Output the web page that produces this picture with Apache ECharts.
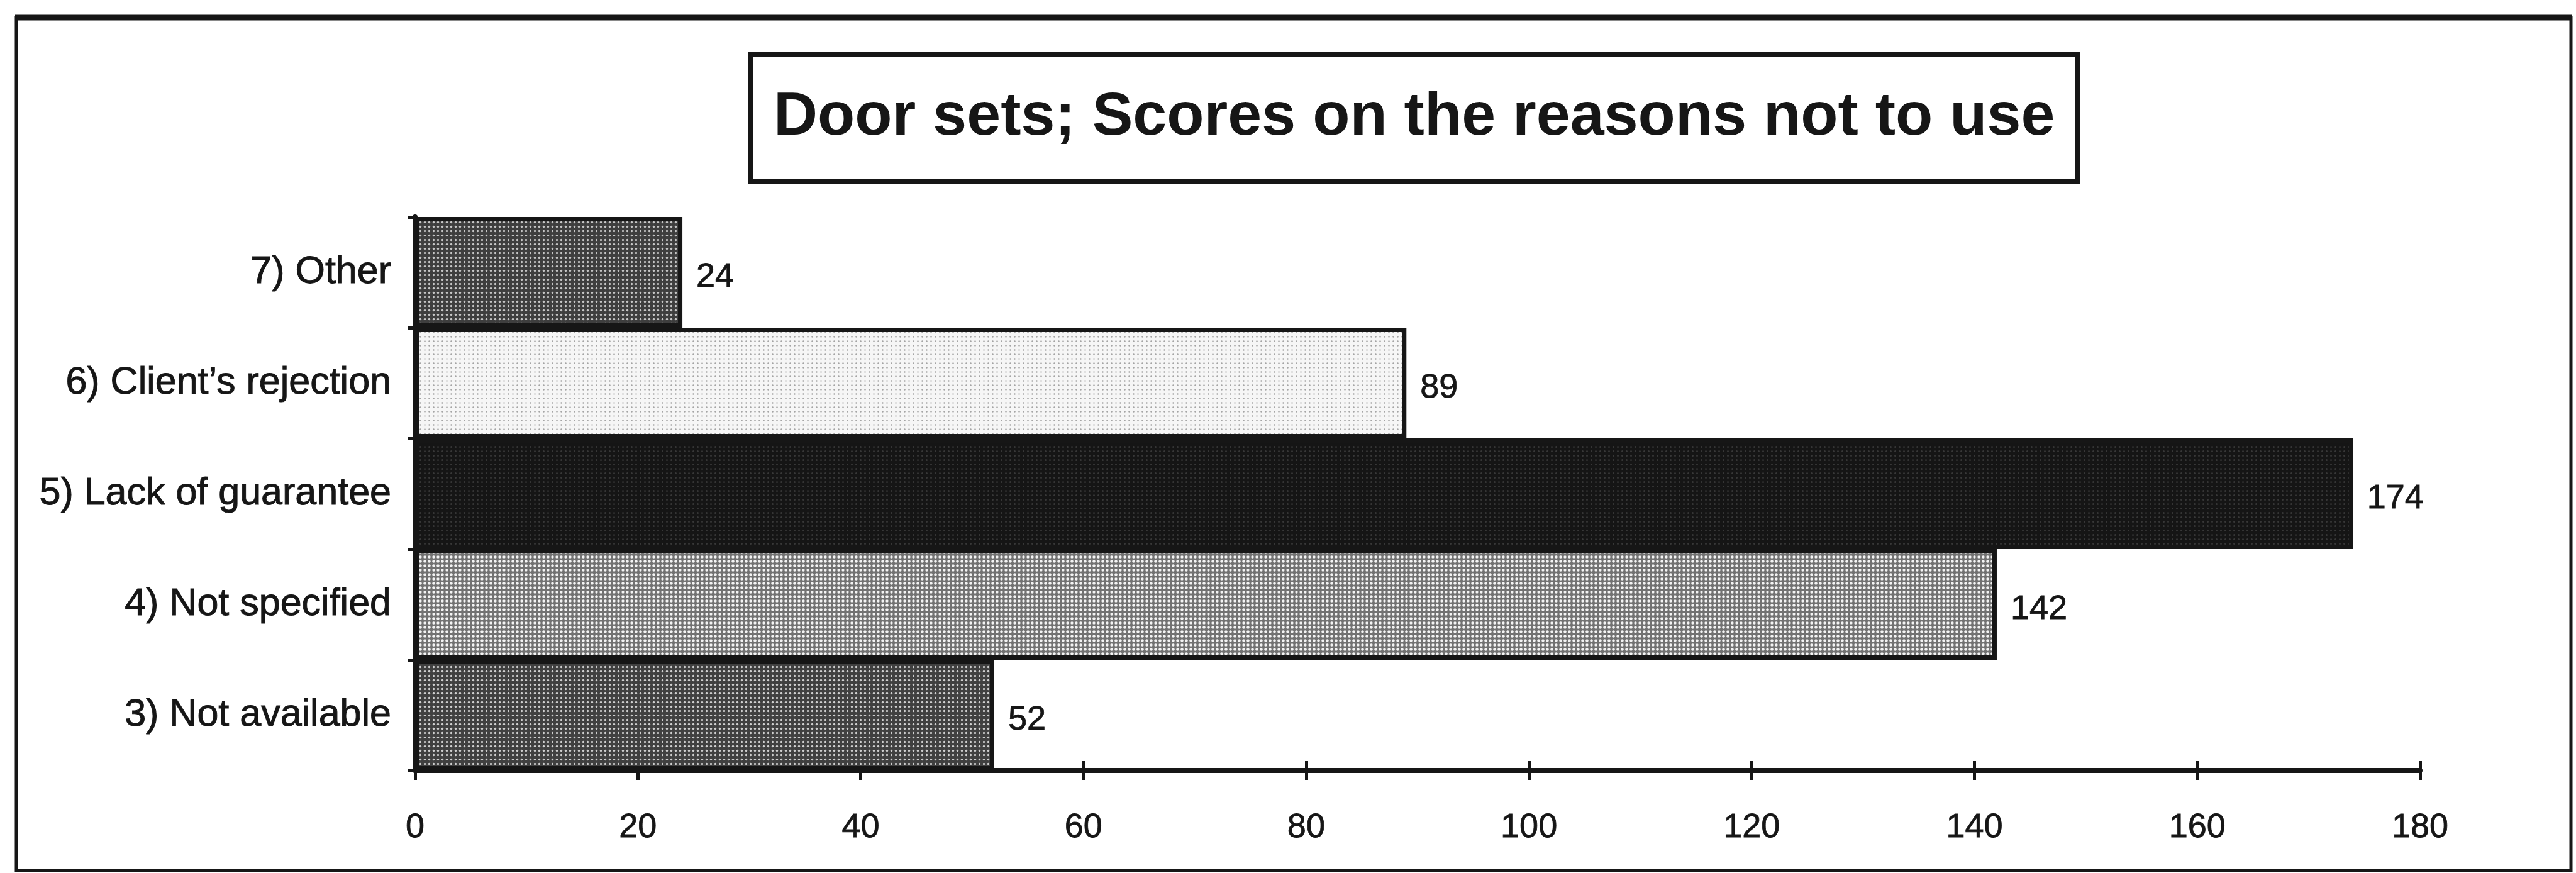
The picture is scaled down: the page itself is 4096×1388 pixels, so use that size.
<!DOCTYPE html>
<html>
<head>
<meta charset="utf-8">
<title>Door sets; Scores on the reasons not to use</title>
<script src="https://cdn.jsdelivr.net/npm/echarts@6/dist/echarts.min.js"></script>
<style>
  html, body { margin: 0; padding: 0; background: #ffffff; }
  #chart { width: 4096px; height: 1388px; }
</style>
</head>
<body>
<div id="chart"></div>
<script>
// ---- data ----
const titleText = 'Door sets; Scores on the reasons not to use';
const categories = ['3) Not available', '4) Not specified', '5) Lack of guarantee', '6) Client\u2019s rejection', '7) Other'];
const scores = [52, 142, 174, 89, 24];
const axisMin = 0;
const axisMax = 180;
const axisStep = 20;

// ---- fill patterns (one per bar, bottom to top) ----
function dotPattern(bg, dot, pitch, radius) {
  const c = document.createElement('canvas');
  c.width = pitch * 2;
  c.height = pitch * 2;
  const g = c.getContext('2d');
  g.fillStyle = bg;
  g.fillRect(0, 0, c.width, c.height);
  g.fillStyle = dot;
  [[pitch / 2, pitch / 2], [pitch * 1.5, pitch * 1.5], [pitch * 1.5, pitch / 2], [pitch / 2, pitch * 1.5]].forEach(function (p) {
    g.beginPath();
    g.arc(p[0], p[1], radius, 0, Math.PI * 2);
    g.fill();
  });
  return { image: c, repeat: 'repeat' };
}

const barFills = [
  dotPattern('#404040', '#cfcfcf', 7, 1.7),   // Not available
  dotPattern('#727272', '#f4f4f4', 7, 2.2),   // Not specified
  dotPattern('#151515', '#383838', 7, 1.5),   // Lack of guarantee
  dotPattern('#f6f6f6', '#a4a4a4', 7, 1.2),   // Client's rejection
  dotPattern('#3e3e3e', '#c6c6c6', 7, 1.7)    // Other
];

const ink = '#161616';
const font = '"Liberation Sans", Arial, sans-serif';

const chart = echarts.init(document.getElementById('chart'), null, { renderer: 'canvas' });

chart.setOption({
  backgroundColor: '#ffffff',
  animation: false,
  title: {
    text: titleText,
    left: 1194,
    top: 86,
    padding: [52, 36, 52, 36],
    borderColor: ink,
    borderWidth: 8,
    textStyle: {
      fontFamily: font,
      fontSize: 97,
      fontWeight: 'bold',
      color: ink,
      lineHeight: 98
    }
  },
  graphic: [
    {
      type: 'rect',
      shape: { x: 26, y: 28, width: 4062, height: 1356 },
      style: { fill: null, stroke: ink, lineWidth: 5 },
      silent: true
    },
    {
      type: 'line',
      shape: { x1: 24, y1: 28, x2: 4090, y2: 28 },
      style: { stroke: ink, lineWidth: 9 },
      silent: true
    }
  ],
  grid: { left: 660, right: 248, top: 345, bottom: 163, containLabel: false },
  xAxis: [
    {
      type: 'value',
      min: axisMin,
      max: axisMax,
      interval: axisStep,
      position: 'bottom',
      splitLine: { show: false },
      axisLine: { show: true, lineStyle: { color: ink, width: 8 } },
      axisTick: { show: true, inside: false, length: 15, lineStyle: { color: ink, width: 5 } },
      axisLabel: {
        fontFamily: font, fontSize: 54, color: ink, margin: 64,
        textBorderColor: ink, textBorderWidth: 0.8
      }
    },
    {
      type: 'value',
      min: axisMin,
      max: axisMax,
      interval: axisStep,
      position: 'bottom',
      splitLine: { show: false },
      axisLine: { show: false },
      axisTick: { show: true, inside: true, length: 15, lineStyle: { color: ink, width: 5 } },
      axisLabel: { show: false }
    }
  ],
  yAxis: {
    type: 'category',
    data: categories,
    boundaryGap: true,
    axisLine: { show: true, lineStyle: { color: ink, width: 8 } },
    axisTick: { show: true, length: 12, lineStyle: { color: ink, width: 5 } },
    axisLabel: {
      fontFamily: font, fontSize: 61, color: ink, margin: 38,
      textBorderColor: ink, textBorderWidth: 1
    }
  },
  series: [
    {
      type: 'bar',
      xAxisIndex: 0,
      barCategoryGap: 0,
      data: scores.map(function (v, i) {
        return { value: v, itemStyle: { color: barFills[i] } };
      }),
      itemStyle: { borderColor: ink, borderWidth: 7 },
      label: {
        show: true,
        position: 'right',
        distance: 22,
        offset: [0, 8],
        fontFamily: font,
        fontSize: 54,
        color: ink,
        textBorderColor: ink,
        textBorderWidth: 0.8
      }
    }
  ]
});
</script>
</body>
</html>
